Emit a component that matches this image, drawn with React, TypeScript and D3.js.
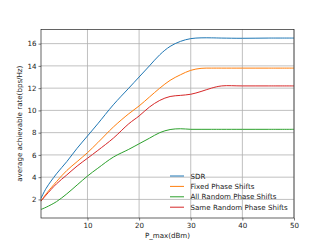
import React, { useEffect, useRef } from "react";
import * as d3 from "d3";

const xs = [1, 2, 4, 6, 8, 10, 12, 15, 18, 20, 22, 24, 26, 28, 30, 32, 34, 36, 40, 45, 50];
const sdr = [2.1, 3.0, 4.3, 5.4, 6.6, 7.7, 8.8, 10.5, 12.0, 13.0, 14.0, 15.0, 15.75, 16.2, 16.45, 16.52, 16.52, 16.5, 16.48, 16.5, 16.5];
const fixedPS = [1.85, 2.5, 3.6, 4.6, 5.4, 6.2, 7.1, 8.5, 9.7, 10.4, 11.2, 12.0, 12.7, 13.2, 13.6, 13.78, 13.8, 13.8, 13.8, 13.8, 13.8];
const allRandom = [1.1, 1.3, 1.8, 2.5, 3.3, 4.1, 4.8, 5.8, 6.5, 7.0, 7.5, 8.0, 8.28, 8.35, 8.3, 8.3, 8.3, 8.3, 8.3, 8.3, 8.3];
const sameRandom = [1.85, 2.4, 3.4, 4.2, 5.0, 5.7, 6.4, 7.5, 8.8, 9.5, 10.3, 10.9, 11.25, 11.35, 11.45, 11.7, 12.0, 12.2, 12.2, 12.2, 12.2];

const seriesNames = ["SDR", "Fixed Phase Shifts", "All Random Phase Shifts", "Same Random Phase Shifts"];
const seriesValues = [sdr, fixedPS, allRandom, sameRandom];
const colors = ["#1f77b4", "#ff7f0e", "#2ca02c", "#d62728"];
const xTicks = [10, 20, 30, 40, 50];
const yTicks = [2, 4, 6, 8, 10, 12, 14, 16];

const width = 327;
const height = 245;
const margin = { top: 29.5, left: 41, bottom: 27, right: 33 };
const iwidth = width - margin.left - margin.right;
const iheight = height - margin.top - margin.bottom;
const font = "DejaVu Sans, sans-serif";

export default function App() {
  const ref = useRef<SVGSVGElement>(null);

  useEffect(() => {
    const svg = d3.select(ref.current);
    svg.selectAll("*").remove();

    const g = svg.append("g").attr("transform", `translate(${margin.left},${margin.top})`);

    const x = d3.scaleLinear().domain([1, 50]).range([0, iwidth]);
    const y = d3.scaleLinear().domain([0.33, 17.27]).range([iheight, 0]);

    // grid
    g.selectAll(".gx").data(xTicks).enter().append("line")
      .attr("x1", (d) => x(d)).attr("x2", (d) => x(d))
      .attr("y1", 0).attr("y2", iheight)
      .attr("stroke", "#b0b0b0").attr("stroke-width", 0.8);
    g.selectAll(".gy").data(yTicks).enter().append("line")
      .attr("x1", 0).attr("x2", iwidth)
      .attr("y1", (d) => y(d)).attr("y2", (d) => y(d))
      .attr("stroke", "#b0b0b0").attr("stroke-width", 0.8);

    const line = d3.line<[number, number]>()
      .x((d) => x(d[0]))
      .y((d) => y(d[1]))
      .curve(d3.curveCatmullRom.alpha(0.5));

    seriesValues.forEach((vals, i) => {
      g.append("path")
        .datum(xs.map((v, j) => [v, vals[j]] as [number, number]))
        .attr("fill", "none")
        .attr("stroke", colors[i])
        .attr("stroke-width", 1)
        .attr("d", line);
    });

    // axes
    const xAxis = g.append("g").attr("transform", `translate(0,${iheight})`)
      .call(d3.axisBottom(x).tickValues(xTicks).tickSize(2.5).tickPadding(2));
    const yAxis = g.append("g")
      .call(d3.axisLeft(y).tickValues(yTicks).tickSize(2.5).tickPadding(2));
    [xAxis, yAxis].forEach((a) => {
      a.select(".domain").remove();
      a.selectAll("line").attr("stroke", "#222").attr("stroke-width", 0.6);
      a.selectAll("text").attr("font-family", font).attr("font-size", 7.1).attr("fill", "#222");
    });

    g.append("rect")
      .attr("width", iwidth).attr("height", iheight)
      .attr("fill", "none").attr("stroke", "#222").attr("stroke-width", 0.7);

    // labels
    svg.append("text")
      .attr("x", margin.left + iwidth / 2).attr("y", 238)
      .attr("text-anchor", "middle")
      .attr("font-family", font).attr("font-size", 7.1).attr("fill", "#222")
      .text("P_max(dBm)");
    svg.append("text")
      .attr("transform", `translate(22,${margin.top + iheight / 2}) rotate(-90)`)
      .attr("text-anchor", "middle")
      .attr("font-family", font).attr("font-size", 7.1).attr("fill", "#222")
      .text("average achievable rate(bps/Hz)");

    // legend
    const leg = svg.append("g").attr("transform", "translate(170,176)");
    seriesNames.forEach((name, i) => {
      const row = leg.append("g").attr("transform", `translate(0,${i * 10.4})`);
      row.append("line").attr("x1", 0).attr("x2", 14)
        .attr("stroke", colors[i]).attr("stroke-width", 1);
      row.append("text").attr("x", 20.5).attr("y", 2.5)
        .attr("font-family", font).attr("font-size", 7.1).attr("fill", "#222")
        .text(name);
    });
  }, []);

  return (
    <svg
      ref={ref}
      width={width}
      height={height}
      style={{ position: "absolute", left: 0, top: 0, background: "#fff" }}
    />
  );
}
